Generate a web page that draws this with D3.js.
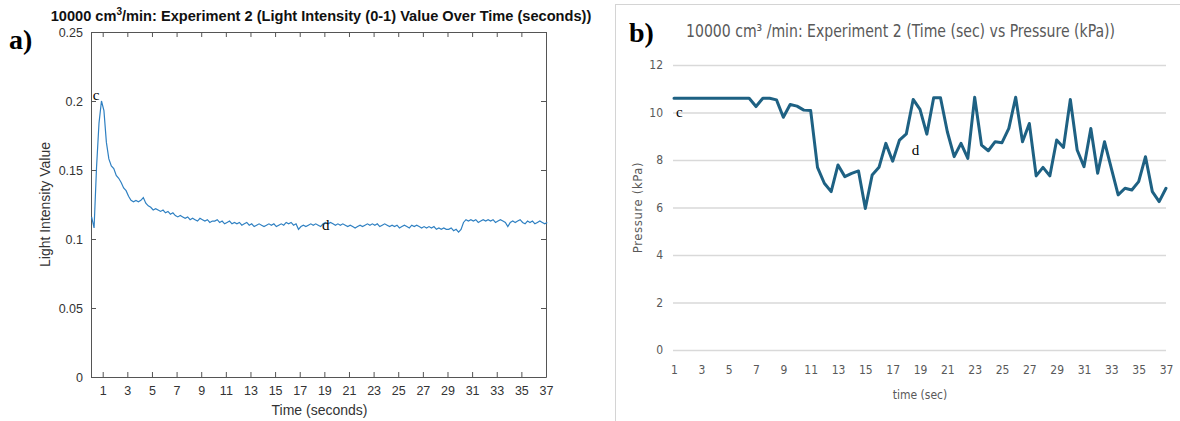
<!DOCTYPE html>
<html>
<head>
<meta charset="utf-8">
<script src="https://cdn.jsdelivr.net/npm/d3@7"></script>
<style>
  body { margin: 0; background: #fff; }
  svg { display: block; }
</style>
</head>
<body>
<script>
// a) light intensity, sampled every 0.2 s starting at 0.1 s
var lightStart = 0.1;
var lightStep = 0.2;
var lightValues = [
    0.116, 0.108, 0.152, 0.184, 0.200, 0.193, 0.170, 0.158, 0.153, 0.151,
    0.146, 0.144, 0.141, 0.137, 0.135, 0.131, 0.128, 0.127, 0.128, 0.127,
    0.128, 0.130, 0.126, 0.124, 0.123, 0.121, 0.122, 0.121, 0.120, 0.121,
    0.119, 0.120, 0.118, 0.119, 0.117, 0.116, 0.117, 0.116, 0.115, 0.116,
    0.114, 0.115, 0.114, 0.113, 0.115, 0.114, 0.113, 0.114, 0.112, 0.113,
    0.113, 0.114, 0.112, 0.113, 0.111, 0.112, 0.113, 0.111, 0.112, 0.111,
    0.112, 0.110, 0.111, 0.112, 0.110, 0.111, 0.109, 0.110, 0.111, 0.110,
    0.109, 0.110, 0.111, 0.110, 0.111, 0.109, 0.110, 0.111, 0.110, 0.112,
    0.111, 0.112, 0.110, 0.111, 0.107, 0.109, 0.110, 0.109, 0.110, 0.111,
    0.110, 0.111, 0.110, 0.109, 0.111, 0.112, 0.111, 0.112, 0.111, 0.110,
    0.111, 0.110, 0.111, 0.110, 0.109, 0.110, 0.109, 0.108, 0.109, 0.110,
    0.109, 0.110, 0.111, 0.110, 0.111, 0.110, 0.111, 0.109, 0.110, 0.111,
    0.110, 0.109, 0.110, 0.109, 0.110, 0.108, 0.109, 0.110, 0.109, 0.108,
    0.110, 0.109, 0.110, 0.109, 0.108, 0.109, 0.108, 0.109, 0.108, 0.109,
    0.107, 0.108, 0.107, 0.108, 0.107, 0.107, 0.108, 0.106, 0.107, 0.105,
    0.107, 0.112, 0.114, 0.113, 0.114, 0.113, 0.114, 0.112, 0.113, 0.114,
    0.113, 0.114, 0.113, 0.114, 0.112, 0.113, 0.114, 0.113, 0.112, 0.109,
    0.112, 0.113, 0.112, 0.113, 0.114, 0.112, 0.111, 0.113, 0.112, 0.113,
    0.111, 0.112, 0.113, 0.112, 0.111, 0.112
];
var lightXTicks = [1, 3, 5, 7, 9, 11, 13, 15, 17, 19, 21, 23, 25, 27, 29, 31, 33, 35, 37];
var lightYTicks = [0, 0.05, 0.1, 0.15, 0.2, 0.25];
var lightYLabels = ["0", "0.05", "0.1", "0.15", "0.2", "0.25"];
// c / d markers: [time, value]
var lightMarks = [
    {"name": "c", "t": 0.2, "v": 0.2005},
    {"name": "d", "t": 18.8, "v": 0.1066}
];

// b) pressure, one reading every 0.5 s from 1 s
var pressureStart = 1;
var pressureStep = 0.5;
var pressureValues = [
    10.6, 10.6, 10.6, 10.6, 10.6, 10.6, 10.6, 10.6, 10.6, 10.6, 10.6, 10.6,
    10.25, 10.6, 10.6, 10.53, 9.8, 10.34, 10.27, 10.1, 10.08, 7.69,
    7.02, 6.67, 7.79, 7.3, 7.44, 7.54, 5.96, 7.37, 7.69, 8.7,
    7.95, 8.84, 9.1, 10.55, 10.13, 9.09, 10.62, 10.62, 9.19, 8.14,
    8.7, 8.07, 10.64, 8.63, 8.39, 8.77, 8.73, 9.33, 10.64, 8.77,
    9.54, 7.33, 7.69, 7.33, 8.84, 8.53, 10.55, 8.42, 7.72, 9.33,
    7.44, 8.77, 7.65, 6.53, 6.81, 6.74, 7.09, 8.14, 6.67, 6.25,
    6.81
];
var pressureXTicks = [1, 3, 5, 7, 9, 11, 13, 15, 17, 19, 21, 23, 25, 27, 29, 31, 33, 35, 37];
var pressureYTicks = [0, 2, 4, 6, 8, 10, 12];
var pressureMarks = [
    {"name": "c", "t": 1.15, "v": 9.81},
    {"name": "d", "t": 18.4, "v": 8.21}
];

var width = 1180,
    height = 421;

var svg = d3.select("body").append("svg")
    .attr("width", width)
    .attr("height", height);

function drawLightChart () {
    var left = 91, right = 546, top = 32, bottom = 377;
    var helv = "'Liberation Sans', Arial, Helvetica, sans-serif";

    var x = d3.scaleLinear().domain([0.05, 37]).range([left, right]);
    var y = d3.scaleLinear().domain([0, 0.25]).range([bottom, top]);

    var data = lightValues.map(function (v, i) {
        return {"t": lightStart + i * lightStep, "v": v};
    });

    var g = svg.append("g").attr("class", "light");

    // box with inward ticks on all four sides
    g.append("g")
        .attr("transform", "translate(0," + bottom + ")")
        .call(d3.axisBottom(x).tickValues(lightXTicks).tickSizeInner(-5).tickSizeOuter(0).tickPadding(9))
        .call(styleMatlab);
    g.append("g")
        .attr("transform", "translate(0," + top + ")")
        .call(d3.axisTop(x).tickValues(lightXTicks).tickSizeInner(-5).tickSizeOuter(0).tickFormat(""))
        .call(styleMatlab);
    g.append("g")
        .attr("transform", "translate(" + left + ",0)")
        .call(d3.axisLeft(y).tickValues(lightYTicks).tickSizeInner(-5).tickSizeOuter(0).tickPadding(8)
            .tickFormat(function (d, i) { return lightYLabels[i]; }))
        .call(styleMatlab);
    g.append("g")
        .attr("transform", "translate(" + right + ",0)")
        .call(d3.axisRight(y).tickValues(lightYTicks).tickSizeInner(-5).tickSizeOuter(0).tickFormat(""))
        .call(styleMatlab);

    function styleMatlab(sel) {
        sel.select(".domain").attr("stroke", "#555").attr("stroke-width", 1);
        sel.selectAll(".tick line").attr("stroke", "#555");
        sel.selectAll(".tick text")
            .attr("fill", "#333")
            .style("font-family", helv)
            .style("font-size", "12.5px");
    }

    g.append("path")
        .datum(data)
        .attr("fill", "none")
        .attr("stroke", "#2f80c2")
        .attr("stroke-width", 1.2)
        .attr("d", d3.line().x(function (d) { return x(d.t); }).y(function (d) { return y(d.v); }));

    // title with superscript 3
    var title = g.append("text")
        .attr("x", 321)
        .attr("y", 21)
        .attr("text-anchor", "middle")
        .style("font-family", helv)
        .style("font-weight", "bold")
        .style("font-size", "14.6px")
        .attr("fill", "#111");
    title.append("tspan").text("10000 cm");
    title.append("tspan").attr("dy", -6).style("font-size", "10px").text("3");
    title.append("tspan").attr("dy", 6).text("/min: Experiment 2 (Light Intensity (0-1) Value Over Time (seconds))");

    g.append("text")
        .attr("x", (left + right) / 2 + 1)
        .attr("y", 415)
        .attr("text-anchor", "middle")
        .style("font-family", helv)
        .style("font-size", "14px")
        .attr("fill", "#333")
        .text("Time (seconds)");

    g.append("text")
        .attr("transform", "translate(50," + ((top + bottom) / 2) + ") rotate(-90)")
        .attr("text-anchor", "middle")
        .style("font-family", helv)
        .style("font-size", "14px")
        .attr("fill", "#333")
        .text("Light Intensity Value");

    g.selectAll(".mark")
        .data(lightMarks)
        .enter().append("text")
        .attr("class", "mark")
        .attr("x", function (d) { return x(d.t); })
        .attr("y", function (d) { return y(d.v); })
        .style("font-family", "'Liberation Serif', 'Times New Roman', serif")
        .style("font-size", "15px")
        .attr("fill", "#000")
        .text(function (d) { return d.name; });

    g.append("text")
        .attr("x", 9)
        .attr("y", 49)
        .style("font-family", "'Liberation Serif', 'Times New Roman', serif")
        .style("font-weight", "bold")
        .style("font-size", "28px")
        .attr("fill", "#000")
        .text("a)");
}

function drawPressureChart () {
    var left = 674, right = 1166, top = 65, bottom = 350;
    var narrow = "'Liberation Sans Narrow', 'DejaVu Sans Condensed', 'Roboto', sans-serif";
    var grey = "#595959";

    var x = d3.scaleLinear().domain([1, 37]).range([left, right]);
    var y = d3.scaleLinear().domain([0, 12]).range([bottom, top]);

    var data = pressureValues.map(function (v, i) {
        return {"t": pressureStart + i * pressureStep, "v": v};
    });

    var g = svg.append("g").attr("class", "pressure");

    // panel frame (cut off by the picture edge)
    g.append("rect")
        .attr("x", 615.5)
        .attr("y", 4.5)
        .attr("width", 700)
        .attr("height", 500)
        .attr("fill", "none")
        .attr("stroke", "#d4d4d4")
        .attr("stroke-width", 1);

    // gridlines + y labels
    var yAxis = g.append("g")
        .attr("transform", "translate(" + (left - 1) + ",0)")
        .call(d3.axisLeft(y).tickValues(pressureYTicks).tickSizeInner(-(right - left + 1)).tickSizeOuter(0).tickPadding(10));
    yAxis.select(".domain").remove();
    yAxis.selectAll(".tick line").attr("stroke", "#d9d9d9").attr("stroke-width", 1.5);
    yAxis.selectAll(".tick text")
        .attr("fill", grey)
        .style("font-family", narrow)
        .style("font-size", "12px");

    var xAxis = g.append("g")
        .attr("transform", "translate(0," + bottom + ")")
        .call(d3.axisBottom(x).tickValues(pressureXTicks).tickSize(0).tickPadding(15));
    xAxis.select(".domain").remove();
    xAxis.selectAll(".tick text")
        .attr("fill", grey)
        .style("font-family", narrow)
        .style("font-size", "12px");

    g.append("path")
        .datum(data)
        .attr("fill", "none")
        .attr("stroke", "#1e6183")
        .attr("stroke-width", 3)
        .attr("stroke-linejoin", "round")
        .attr("stroke-linecap", "round")
        .attr("d", d3.line().x(function (d) { return x(d.t); }).y(function (d) { return y(d.v); }));

    g.append("text")
        .attr("x", 686)
        .attr("y", 37)
        .attr("textLength", 429)
        .attr("lengthAdjust", "spacingAndGlyphs")
        .style("font-family", narrow)
        .style("font-size", "17px")
        .attr("fill", grey)
        .text("10000 cm\u00b3 /min: Experiment 2 (Time (sec) vs Pressure (kPa))");

    g.append("text")
        .attr("x", (left + right) / 2)
        .attr("y", 399)
        .attr("text-anchor", "middle")
        .style("font-family", narrow)
        .style("font-size", "12px")
        .attr("fill", grey)
        .text("time (sec)");

    g.append("text")
        .attr("transform", "translate(642," + ((top + bottom) / 2) + ") rotate(-90)")
        .attr("text-anchor", "middle")
        .style("font-family", narrow)
        .style("font-size", "13px")
        .style("letter-spacing", "0.6px")
        .attr("fill", grey)
        .text("Pressure (kPa)");

    g.selectAll(".mark")
        .data(pressureMarks)
        .enter().append("text")
        .attr("class", "mark")
        .attr("x", function (d) { return x(d.t); })
        .attr("y", function (d) { return y(d.v); })
        .style("font-family", "'Liberation Serif', 'Times New Roman', serif")
        .style("font-size", "15px")
        .attr("fill", "#000")
        .text(function (d) { return d.name; });

    g.append("text")
        .attr("x", 629)
        .attr("y", 42)
        .style("font-family", "'Liberation Serif', 'Times New Roman', serif")
        .style("font-weight", "bold")
        .style("font-size", "28px")
        .attr("fill", "#000")
        .text("b)");
}

drawLightChart();
drawPressureChart();
</script>
</body>
</html>
